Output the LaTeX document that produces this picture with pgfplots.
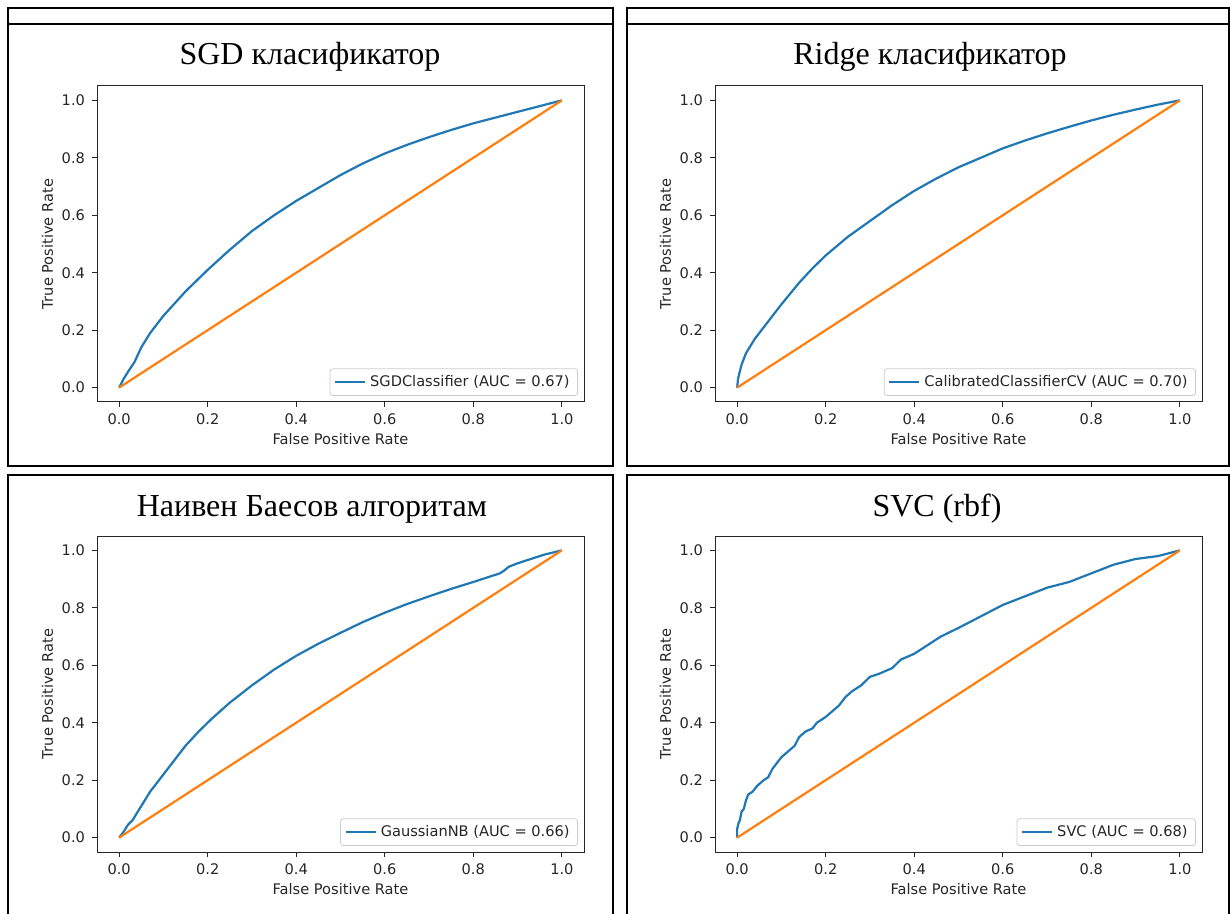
\documentclass[border=0pt]{standalone}
\usepackage{fontspec}
\setmainfont{DejaVu Sans}
\newfontfamily\titlefont{Liberation Serif}
\usepackage{pgfplots}
\pgfplotsset{compat=1.18}
\definecolor{mplblue}{HTML}{1F77B4}
\definecolor{mplorange}{HTML}{FF7F0E}
\pgfplotsset{roc/.style={
  scale only axis, width=243.5pt, height=158pt,
  xmin=-0.05,xmax=1.05,ymin=-0.05,ymax=1.05,
  xtick={0,0.2,0.4,0.6,0.8,1}, xticklabels={0.0,0.2,0.4,0.6,0.8,1.0},
  ytick={0,0.2,0.4,0.6,0.8,1}, yticklabels={0.0,0.2,0.4,0.6,0.8,1.0},
  axis line style={black!85, line width=0.5pt},
  tick style={black!85, line width=0.5pt},
  tick align=outside, major tick length=2.5pt,
  xtick pos=bottom, ytick pos=left,
  tick label style={font=\fontsize{7.3}{8.8}\selectfont, text=black!85},
  label style={font=\fontsize{7.3}{8.8}\selectfont, text=black!85},
  xlabel={False Positive Rate}, ylabel={True Positive Rate},
  xlabel style={yshift=2.5pt},
  ylabel style={yshift=-2.5pt},
  legend style={at={(1,0)}, anchor=south east, xshift=-3pt, yshift=3pt,
    draw=black!20, rounded corners=1.5pt, fill=white, text=black!85,
    font=\fontsize{7.3}{8.8}\selectfont, inner xsep=2pt, inner ysep=1.2pt},
  legend cell align=left,
  legend image code/.code={\draw[#1, line width=1.1pt] (0pt,0pt) -- (15pt,0pt);},
  every axis plot/.append style={line width=1.1pt},
}}
\begin{document}
\begin{tikzpicture}
\path[use as bounding box] (0,0) rectangle (615pt,-457pt);
% panel boxes
\begin{scope}[line width=1.1pt, black]
\draw (4pt,-4pt) rectangle (306.5pt,-233pt);
\draw (4pt,-12pt) -- (306.5pt,-12pt);
\draw (313.5pt,-4pt) rectangle (614.3pt,-233pt);
\draw (313.5pt,-12pt) -- (614.3pt,-12pt);
\draw (4pt,-470pt) -- (4pt,-237.5pt) -- (306.5pt,-237.5pt) -- (306.5pt,-470pt);
\draw (313.5pt,-470pt) -- (313.5pt,-237.5pt) -- (614.3pt,-237.5pt) -- (614.3pt,-470pt);
\end{scope}
% titles
\node[anchor=base, font=\titlefont\fontsize{16}{19}\selectfont] at (155pt,-32.5pt) {SGD класификатор};
\node[anchor=base, font=\titlefont\fontsize{16}{19}\selectfont] at (465pt,-32.5pt) {Ridge класификатор};
\node[anchor=base, font=\titlefont\fontsize{16}{19}\selectfont] at (156pt,-258pt) {Наивен Баесов алгоритам};
\node[anchor=base, font=\titlefont\fontsize{16}{19}\selectfont] at (468.5pt,-258pt) {SVC (rbf)};

% SGD
\begin{axis}[roc, at={(48.5pt,-43pt)}, anchor=north west]
\addplot[mplblue] coordinates {(0,0)(0.005,0.015)(0.01,0.03)(0.02,0.055)(0.035,0.09)(0.05,0.14)(0.07,0.19)(0.1,0.25)(0.15,0.335)(0.2,0.41)(0.25,0.48)(0.3,0.545)(0.35,0.60)(0.4,0.65)(0.45,0.695)(0.5,0.74)(0.55,0.78)(0.6,0.815)(0.65,0.845)(0.7,0.872)(0.75,0.897)(0.8,0.92)(0.85,0.94)(0.9,0.96)(0.95,0.98)(1,1)};
\addlegendentry{SGDClassifier (AUC = 0.67)}
\addplot[mplorange, forget plot] coordinates {(0,0)(1,1)};
\end{axis}

% Ridge
\begin{axis}[roc, at={(357.5pt,-43pt)}, anchor=north west]
\addplot[mplblue] coordinates {(0,0)(0.002,0.03)(0.005,0.05)(0.01,0.08)(0.02,0.12)(0.04,0.17)(0.06,0.21)(0.08,0.25)(0.1,0.29)(0.14,0.365)(0.17,0.415)(0.2,0.46)(0.25,0.525)(0.3,0.58)(0.35,0.635)(0.4,0.685)(0.45,0.728)(0.5,0.767)(0.55,0.80)(0.6,0.833)(0.65,0.86)(0.7,0.885)(0.75,0.908)(0.8,0.93)(0.85,0.95)(0.9,0.968)(0.95,0.985)(1,1)};
\addlegendentry{CalibratedClassifierCV (AUC = 0.70)}
\addplot[mplorange, forget plot] coordinates {(0,0)(1,1)};
\end{axis}

% NB
\begin{axis}[roc, at={(48.5pt,-268pt)}, anchor=north west]
\addplot[mplblue] coordinates {(0,0)(0.01,0.02)(0.02,0.045)(0.03,0.06)(0.05,0.11)(0.07,0.16)(0.09,0.2)(0.12,0.26)(0.15,0.32)(0.18,0.37)(0.21,0.415)(0.25,0.47)(0.3,0.53)(0.35,0.585)(0.4,0.633)(0.45,0.675)(0.5,0.713)(0.55,0.75)(0.6,0.783)(0.65,0.813)(0.7,0.84)(0.75,0.866)(0.8,0.89)(0.84,0.91)(0.86,0.92)(0.87,0.93)(0.88,0.943)(0.9,0.955)(0.93,0.97)(0.96,0.985)(1,1)};
\addlegendentry{GaussianNB (AUC = 0.66)}
\addplot[mplorange, forget plot] coordinates {(0,0)(1,1)};
\end{axis}

% SVC
\begin{axis}[roc, at={(357.5pt,-268pt)}, anchor=north west]
\addplot[mplblue] coordinates {(0,0)(0,0.03)(0.003,0.05)(0.006,0.06)(0.01,0.09)(0.015,0.10)(0.02,0.13)(0.025,0.15)(0.035,0.16)(0.045,0.18)(0.06,0.20)(0.07,0.21)(0.08,0.24)(0.09,0.26)(0.1,0.28)(0.115,0.30)(0.13,0.32)(0.14,0.35)(0.155,0.37)(0.17,0.38)(0.18,0.40)(0.2,0.42)(0.215,0.44)(0.23,0.46)(0.245,0.49)(0.26,0.51)(0.28,0.53)(0.3,0.56)(0.32,0.57)(0.35,0.59)(0.37,0.62)(0.4,0.64)(0.43,0.67)(0.46,0.70)(0.5,0.73)(0.55,0.77)(0.6,0.81)(0.65,0.84)(0.7,0.87)(0.75,0.89)(0.8,0.92)(0.85,0.95)(0.9,0.97)(0.95,0.98)(1,1)};
\addlegendentry{SVC (AUC = 0.68)}
\addplot[mplorange, forget plot] coordinates {(0,0)(1,1)};
\end{axis}
\end{tikzpicture}
\end{document}
